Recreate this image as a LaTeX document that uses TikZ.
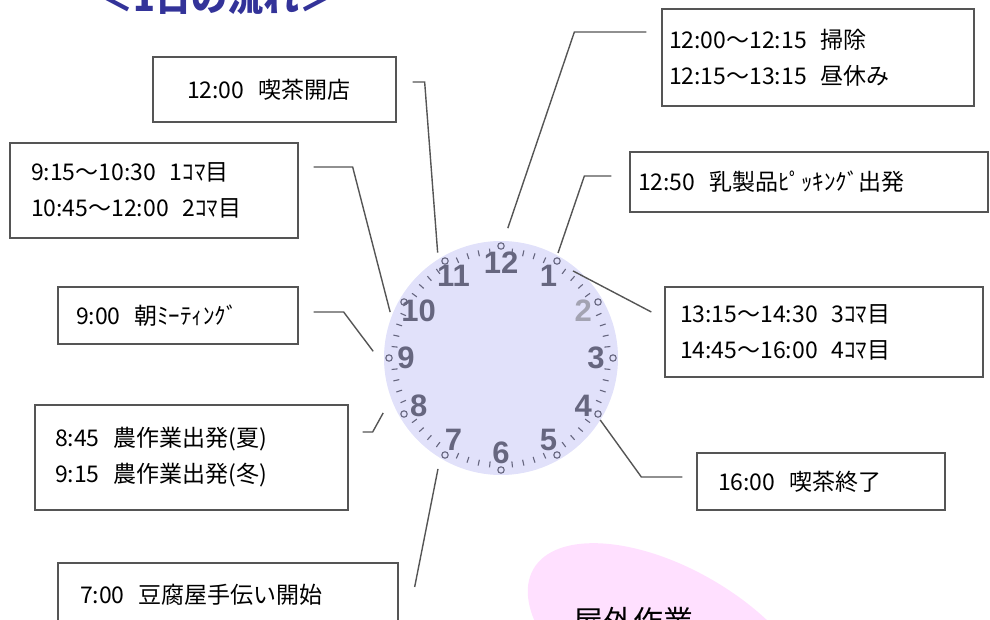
\documentclass[tikz,border=0pt]{standalone}
\usepackage{fontspec}
\setmainfont{Noto Sans CJK JP}
\newfontfamily\dialfont{Liberation Sans}
\newcommand{\tgap}{\hspace{0.6em}}
\definecolor{facecol}{HTML}{E1E1FA}
\definecolor{numcol}{HTML}{66667F}
\definecolor{linecol}{HTML}{555555}
\definecolor{titlecol}{HTML}{333399}
\definecolor{blobcol}{HTML}{FFE0FF}

\begin{document}
\begin{tikzpicture}
    [
    x=1pt, y=-1pt,
    every node/.style={font=\fontsize{23}{36}\selectfont},
    slot/.style={rectangle, draw=linecol, line width=1.3pt, align=left, inner ysep=0pt},
    link/.style={draw=linecol, line width=1.4pt},
    num/.style={font=\dialfont\bfseries\fontsize{31}{31}\selectfont, text=numcol, inner sep=0pt},
    tick/.style={draw=numcol, line width=1.1pt}
    ]

    \useasboundingbox (0,0) rectangle (990,620);
    \clip (0,0) rectangle (990,620);

% Title (cut off at the top)
    \node[font=\bfseries\fontsize{36}{36}\selectfont, text=titlecol, anchor=base west, inner sep=0pt] (title) at (97,12) {＜1日の流れ＞};

% Outdoor work
    \fill[blobcol, rotate around={-30:(672,649)}] (672,649) ellipse [x radius=160, y radius=80];
    \node[anchor=north west, inner sep=0pt, font=\fontsize{30}{30}\selectfont] (outdoor) at (573,607) {屋外作業};

% Clock
    \begin{scope}[shift={(501,358)}]
        \fill[facecol] (0,0) circle [radius=117];
        \foreach \i in {0,...,59}{
            \pgfmathtruncatemacro{\r}{mod(\i,5)}
            \ifnum\r=0
                \draw[tick] (-90+6*\i:112) circle [radius=3.2];
            \else
                \draw[tick] (-90+6*\i:104) -- (-90+6*\i:110);
            \fi
        }
        \foreach \h in {1,3,4,...,12}
            \node[num] (n\h) at (-90+30*\h:95) {\h};
        \node[num, text=numcol!60] (n2) at (-30:95) {2};

        \coordinate (at12) at (-87:130);
        \coordinate (at11) at (-121:123);
        \coordinate (at10) at (-157.5:120);
        \coordinate (at9) at (-177:128);
        \coordinate (at8) at (155:130);
        \coordinate (at7) at (119.6:127.6);
        \coordinate (at1) at (-61.5:119.5);
        \coordinate (at115) at (-50.4:113);
        \coordinate (at4) at (32:117);
    \end{scope}

% Left column
    \node[slot, minimum height=65, inner xsep=34, text width=175] (cafeopen) at (274.5,89.5) {12:00\tgap 喫茶開店};
    \node[slot, minimum height=95, inner xsep=21, text width=246] (koma12) at (154,190.5) {9:15〜10:30\tgap 1ｺﾏ目\\10:45〜12:00\tgap 2ｺﾏ目};
    \node[slot, minimum height=57, inner xsep=18, text width=204] (meeting) at (178,315.5) {9:00\tgap 朝ﾐｰﾃｨﾝｸﾞ};
    \node[slot, minimum height=105, inner xsep=20, text width=273] (farm) at (191.5,457.5) {8:45\tgap 農作業出発(夏)\\9:15\tgap 農作業出発(冬)};
    \node[slot, minimum height=64, inner xsep=22, text width=296] (tofu) at (228,595) {7:00\tgap 豆腐屋手伝い開始};

% Right column
    \node[slot, minimum height=97, inner xsep=7, text width=298] (lunch) at (818,57.5) {12:00〜12:15\tgap 掃除\\12:15〜13:15\tgap 昼休み};
    \node[slot, minimum height=60, inner xsep=8, text width=342] (dairy) at (809,182) {12:50\tgap 乳製品ﾋﾟｯｷﾝｸﾞ出発};
    \node[slot, minimum height=90, inner xsep=15, text width=288] (koma34) at (824,332) {13:15〜14:30\tgap 3ｺﾏ目\\14:45〜16:00\tgap 4ｺﾏ目};
    \node[slot, minimum height=57, inner xsep=21, text width=206] (cafeclose) at (821,481.5) {16:00\tgap 喫茶終了};

% Connectors
    \draw[link] (cafeopen.east) ++(16,-7.5) -- ++(12,0) -- (at11);
    \draw[link] (koma12.east) ++(15,-23.5) -- ++(39,0) -- (at10);
    \draw[link] (meeting.east) ++(15,-3.5) -- ++(30,0) -- (at9);
    \draw[link] (farm.east) ++(14,-25.5) -- ++(10,0) -- (at8);
    \draw[link] (tofu.east) ++(16,-8) -- (at7);
    \draw[link] (lunch.west) ++(-15,-25.5) -- ++(-72,0) -- (at12);
    \draw[link] (dairy.west) ++(-18,-6) -- ++(-27,0) -- (at1);
    \draw[link] (koma34.west) ++(-13,-20) -- (at115);
    \draw[link] (cafeclose.west) ++(-14,-4.5) -- ++(-41,0) -- (at4);

\end{tikzpicture}
\end{document}
